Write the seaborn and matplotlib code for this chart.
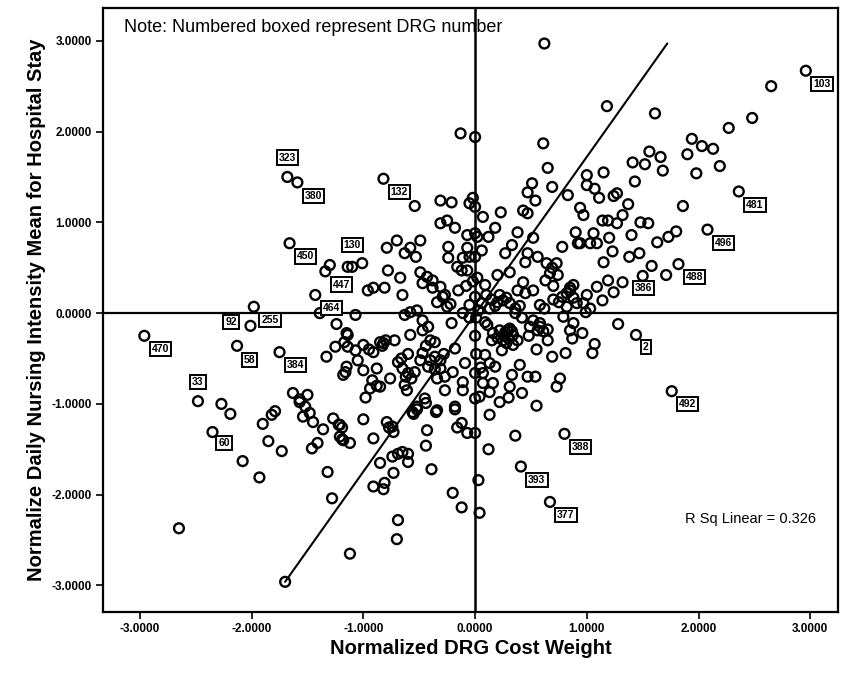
import matplotlib
matplotlib.use("Agg")
import matplotlib.pyplot as plt
import seaborn as sns
import pandas as pd

# ---- data ----
label_ids = ["103", "481", "496", "488", "386", "2", "492", "388", "393", "377",
             "132", "323", "380", "450", "130", "447", "464", "255", "92", "470",
             "58", "384", "33", "60"]
label_x = [2.96, 2.36, 2.08, 1.82, 1.32, 1.44, 1.76, 0.80, 0.41, 0.67,
           -0.82, -1.68, -1.59, -1.66, -1.01, -1.34, -1.43, -1.98, -2.01, -2.96,
           -2.13, -1.75, -2.48, -2.35]
label_y = [2.67, 1.34, 0.92, 0.54, 0.34, -0.24, -0.86, -1.33, -1.69, -2.08,
           1.48, 1.50, 1.44, 0.77, 0.55, 0.46, 0.20, 0.07, -0.14, -0.25,
           -0.36, -0.43, -0.97, -1.31]

other_x = [
    0.62, -0.13, 0.00, 0.61, 0.65, 0.51, 0.47, 0.54, 0.69, 0.83, 1.00, 1.00, -0.54, -0.31, -0.21, -0.05, -0.02, 0.94,
    2.65, 1.18, 1.61, 2.48, 2.27, 1.94, 2.03, 2.13, 1.90, 2.19, 1.98, 1.56, 1.66, 1.52, 1.41, 1.68, 1.43, 1.15, 1.07,
    1.11, 1.24, 1.27, 1.37, 1.86,
    0.97, 1.14, 1.19, 1.27, 1.32, 1.48, 1.55, 1.40, 1.20, 1.06, 1.03, 0.94, 1.23, 1.63, 1.73, 1.80, 1.38, 1.47, 1.15,
    1.58, 1.71, 1.50, 1.19, 1.09, 1.24, 1.00, 1.14, 0.97, 1.03, 1.28, 0.96, 1.07, 1.05,
    0.00, 0.07, 0.23, 0.43, 0.47, 0.18, 0.12, 0.02, 0.38, 0.33, 0.27, 0.06, 0.52, 0.47, 0.56, 0.45, 0.31, 0.20, 0.09,
    0.02, 0.90, 0.92, 1.09, 0.78, 0.64, 0.69, 0.73, 0.74, 0.67, 0.63, 0.43, 0.52, 0.38, 0.45, 0.25, 0.31, 0.36, 0.20,
    0.13, 0.06, 0.03, 0.58, 0.70, 0.78, 0.85, 0.88, 0.82, 0.91, 0.99,
    0.11, 0.16, 0.22, 0.29, 0.25, 0.34, 0.38, 0.34, 0.24, 0.15, 0.49, 0.56, 0.65, 0.58, 0.65, 0.79, 0.85, 0.88, 0.87,
    0.69, 0.81, 0.09, 0.13, 0.18, 0.07, 0.07, 0.16, 0.13, 0.04, 0.00, 0.22, 0.30, 0.31, 0.33, 0.42, 0.40, 0.47, 0.54,
    0.76, 0.73, 0.55, 0.13, 0.36, 0.12, 0.00,
    0.04, 0.03, -0.12, -0.20, -0.39, -0.44, -0.43, -0.35, -0.18, -0.18, -0.12, -0.16, -0.07, -0.52, -0.56, -0.44,
    -1.00, -1.21, -1.18, -1.12, -0.91, -0.79, -0.73, -0.74, -0.85, -0.74, -0.69, -0.65, -0.60, -0.60, -0.73, -0.91,
    -0.81, -0.82, -0.69, -0.70, -1.12,
    -1.70, -2.65, -1.28, -1.32, -1.93, -2.08, -1.73, -1.85, -1.90, -1.82, -1.79, -2.19, -2.27, -1.54, -1.48, -1.45,
    -1.57, -1.52, -1.36, -1.46, -1.41, -1.27, -1.22, -1.19,
    -1.30, -1.14, -1.39, -1.24, -1.63, -1.57, -1.50, -1.14, -1.25, -1.14, -1.33, -1.16, -1.18,
    -0.31, -0.25, -0.18, -0.07, -0.24, -0.24, -0.16, -0.07, -0.11, -0.05, -0.12, -0.07, -0.15, -0.27, -0.25, -0.05,
    -0.11, -0.05, -0.21, -0.70, -0.79, -0.58, -0.49, -0.63, -0.53, -0.78, -0.67, -0.65, -0.49, -0.43, -0.38, -0.47,
    -0.38, -0.31, -0.29, -0.81, -0.91, -0.96, -1.10, -1.07, -0.63, -0.58, -0.52, -0.47, -0.42, -0.58, -0.47, -0.36,
    -0.72, -0.85, -0.82, -1.00, -1.07, -1.15, -1.17, -0.91, -1.05, -1.15, -1.00, -0.88, -0.92, -0.94, -0.98, -0.85,
    -0.76, -0.63, -0.61, -0.69, -0.65, -0.54, -0.49, -0.47, -0.40, -0.36, -0.42, -0.31, -0.31, -0.34, -0.27, -0.27,
    -0.18, -0.09, -0.11, -0.11, -0.45, -0.52, -0.55, -0.34, -1.19, -1.21, -0.77,
    0.00, 0.00, -0.02, 0.00, 0.01, 0.00, 0.01, 0.00,
    0.26, 0.30, 0.28, 0.20, 0.33, 0.15, 0.18, 0.22, 0.28, 0.10,
    -0.60, -0.57, -0.62, -0.83, -0.80,
    0.27, 0.31, 0.58, 0.61, 0.85, 0.88, 0.82, 0.42, 0.48, 0.52, 0.36, 0.40, 0.62, 0.70, 0.75,
    -0.40, -0.44, -0.36, -0.60, -0.66, -0.20, -0.22, -0.34, -0.88, -0.95, 0.05, 0.09, -0.08, -0.28, 0.55,
]
other_y = [
    2.97, 1.98, 1.94, 1.87, 1.60, 1.43, 1.33, 1.24, 1.39, 1.30, 1.52, 1.41, 1.18, 1.24, 1.22, 1.21, 1.27, 1.16,
    2.50, 2.28, 2.20, 2.15, 2.04, 1.92, 1.84, 1.81, 1.75, 1.62, 1.54, 1.78, 1.72, 1.64, 1.66, 1.57, 1.45, 1.55, 1.37,
    1.27, 1.29, 1.32, 1.20, 1.18,
    1.08, 1.02, 1.02, 0.99, 1.08, 1.00, 0.99, 0.86, 0.83, 0.88, 0.77, 0.77, 0.68, 0.78, 0.84, 0.90, 0.62, 0.66, 0.56,
    0.52, 0.42, 0.41, 0.36, 0.29, 0.23, 0.20, 0.14, 0.11, 0.05, -0.12, -0.22, -0.34, -0.44,
    1.17, 1.06, 1.11, 1.13, 1.10, 0.94, 0.84, 0.84, 0.89, 0.75, 0.66, 0.69, 0.83, 0.66, 0.62, 0.56, 0.45, 0.42, 0.31,
    0.39, 0.89, 0.77, 0.77, 0.73, 0.55, 0.50, 0.55, 0.42, 0.44, 0.36, 0.34, 0.25, 0.25, 0.22, 0.14, 0.11, 0.05, 0.12,
    0.05, 0.11, 0.03, 0.09, 0.15, 0.18, 0.28, 0.17, 0.07, 0.11, 0.01,
    -0.13, -0.22, -0.19, -0.19, -0.30, -0.24, -0.30, -0.35, -0.41, -0.30, -0.15, -0.19, -0.18, -0.11, -0.30, -0.04,
    -0.19, -0.11, -0.28,
    -0.48, -0.44, -0.46, -0.55, -0.59, -0.66, -0.77, -0.77, -0.87, -0.92, -0.94, -0.98, -0.93, -0.81, -0.68, -0.88,
    -0.57, -0.70, -0.70,
    -0.72, -0.81, -1.02, -1.12, -1.35, -1.50, -1.32,
    -2.20, -1.84, -2.14, -1.98, -1.72, -1.46, -1.29, -1.09, -1.03, -1.06, -1.21, -1.26, -1.32, -1.03, -1.09, -0.99,
    -1.17, -1.23, -1.40, -1.43, -1.38, -1.20, -1.31, -1.25, -1.65, -1.58, -1.55, -1.53, -1.64, -1.55, -1.76, -1.91,
    -1.87, -1.94, -2.28, -2.49, -2.65,
    -2.96, -2.37, -2.04, -1.75, -1.81, -1.63, -1.52, -1.41, -1.22, -1.12, -1.08, -1.11, -1.00, -1.14, -1.10, -1.20,
    -0.98, -1.03, -1.28, -1.49, -1.43, -1.16, -1.23, -1.39,
    0.53, 0.51, 0.00, -0.12, -0.88, -0.95, -0.90, -0.24, -0.37, -0.37, -0.48, -0.65, -0.68,
    0.99, 1.02, 0.94, 0.86, 0.73, 0.61, 0.51, 0.72, 0.61, 0.62, 0.47, 0.47, 0.25, 0.20, 0.07, 0.09,
    0.00, -0.05, -0.11, 0.80, 0.72, 0.72, 0.80, 0.66, 0.62, 0.47, 0.39, 0.20, 0.45, 0.40, 0.36, 0.33,
    0.28, 0.29, 0.18, 0.28, 0.28, 0.25, 0.51, -0.02, -0.02, 0.01, 0.03, -0.08, -0.15, -0.24, -0.19, -0.32,
    -0.30, -0.32, -0.33, -0.35, -0.41, -0.22, -0.32, -0.43, -0.52, -0.59, -0.63, -0.61, -0.74, -0.83, -0.93, -0.81,
    -0.72, -0.79, -0.85, -0.54, -0.61, -0.65, -0.52, -0.44, -0.52, -0.48, -0.59, -0.52, -0.61, -0.72, -0.70, -0.85,
    -0.39, -0.55, -0.76, -0.85, -0.94, -1.06, -1.11, -1.07, -1.26, -1.36, -1.26,
    0.88, 0.62, 0.35, 0.18, -0.05, -0.25, -0.45, -0.66,
    -0.25, -0.28, -0.33, -0.27, -0.20, 0.15, 0.08, 0.20, 0.17, 0.20,
    -0.66, -0.72, -0.70, -0.36, -0.30,
    -0.21, -0.17, -0.15, -0.20, 0.25, 0.31, 0.22, -0.05, -0.25, -0.08, 0.00, 0.08, 0.05, 0.30, 0.12,
    -0.30, -0.36, -0.62, -0.45, -0.50, -0.65, 0.10, 0.12, -0.80, -0.40, -0.60, -0.10, 0.30, -0.45, -0.40,
]

fit_x = [-1.70, 1.72]
fit_y = [-2.96, 2.97]

x_ticks = [-3, -2, -1, 0, 1, 2, 3]
y_ticks = [-3, -2, -1, 0, 1, 2, 3]
tick_labels = ["-3.0000", "-2.0000", "-1.0000", "0.0000", "1.0000", "2.0000", "3.0000"]

r_sq_text = "R Sq Linear = 0.326"
note_text = "Note: Numbered boxed represent DRG number"

# ---- plotting ----
sns.set_theme(style="white")
plt.rcParams['font.family'] = ['Liberation Sans', 'DejaVu Sans']
plt.rcParams['text.color'] = 'black'
plt.rcParams['axes.labelcolor'] = 'black'
plt.rcParams['xtick.color'] = 'black'
plt.rcParams['ytick.color'] = 'black'

df = pd.DataFrame({"x": other_x + label_x, "y": other_y + label_y})

fig = plt.figure(figsize=(8.51, 6.76), dpi=100)
ax = fig.add_axes([0.121, 0.095, 0.864, 0.893])

sns.scatterplot(data=df, x="x", y="y", ax=ax, s=50, marker="o",
                edgecolor="black", linewidth=1.7, legend=False, zorder=3)
for coll in ax.collections:
    coll.set_facecolor("none")
    coll.set_edgecolor("black")

sns.lineplot(x=fit_x, y=fit_y, ax=ax, color="black", linewidth=1.5, zorder=2)
ax.axhline(0, color="black", linewidth=1.6, zorder=1)
ax.axvline(0, color="black", linewidth=1.8, zorder=1)

ax.set_xlim(-3.33, 3.25)
ax.set_ylim(-3.29, 3.36)
ax.set_xticks(x_ticks)
ax.set_xticklabels(tick_labels)
ax.set_yticks(y_ticks)
ax.set_yticklabels(tick_labels)
ax.tick_params(axis="both", direction="out", length=5, width=1.2, color="black",
               labelcolor="black", labelsize=8.5, pad=3, bottom=True, left=True)
for t in ax.get_xticklabels() + ax.get_yticklabels():
    t.set_fontweight("bold")

for sp in ax.spines.values():
    sp.set_color("black")
    sp.set_linewidth(1.6)

ax.set_xlabel("Normalized DRG Cost Weight", fontsize=14.5, fontweight="bold",
              color="black", labelpad=3)
ax.set_ylabel("Normalize Daily Nursing Intensity Mean for Hospital Stay", fontsize=14.5,
              fontweight="bold", color="black", labelpad=4)
ax.grid(False)

# labels of DRG points
custom_offsets = {"323": (0, 14), "33": (0, 14), "92": (-14, 3), "130": (-7, 13),
                  "386": (15, -4), "2": (7, -9), "58": (9, -10), "60": (8.5, -8)}
for lid, lx, ly in zip(label_ids, label_x, label_y):
    off = custom_offsets.get(lid, (11.5, -9.5))
    ax.annotate(lid, (lx, ly), xytext=off, textcoords="offset points",
                ha="center", va="center", fontsize=7.5, fontweight="bold", zorder=5,
                bbox=dict(boxstyle="square,pad=0.2", fc="white", ec="black", lw=1.4))

ax.text(124 / 851, 1 - 28 / 676, note_text, transform=fig.transFigure,
        fontsize=13, ha="left", va="center")
ax.text(685 / 851, 1 - 519 / 676, r_sq_text, transform=fig.transFigure,
        fontsize=10.5, ha="left", va="center")

fig.savefig("out.png", dpi=100)
